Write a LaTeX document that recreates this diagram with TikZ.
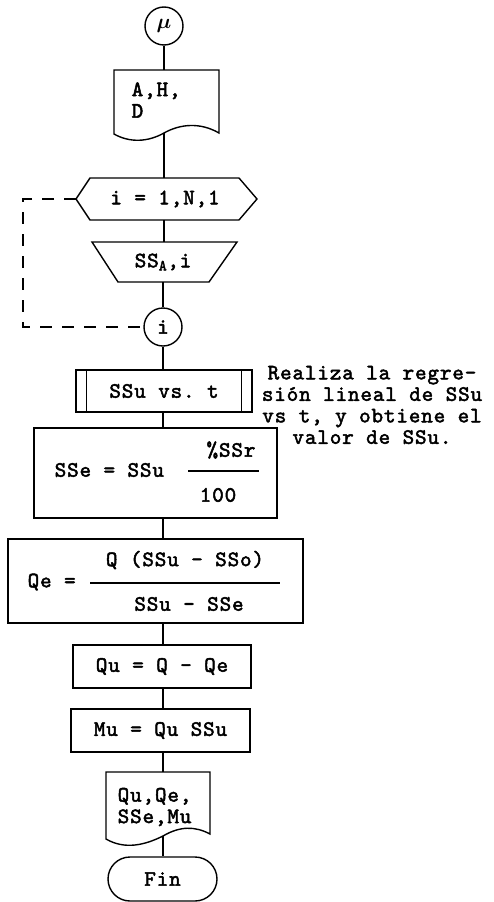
\documentclass[tikz,border=0pt]{standalone}
\usepackage{fontspec}
\usepackage{bm}
\newfontfamily\twfont[FakeBold=2.2,LetterSpace=4]{lmmono10-regular.otf}
\begin{document}
\begin{tikzpicture}[x=1pt,y=-1pt,line width=1.4pt,
  txt/.style={font=\fontsize{22}{21.5}\selectfont\twfont,inner sep=0pt},
  box/.style={draw,rectangle,inner sep=0pt},
  loopdash/.style={dash pattern=on 12pt off 10pt}]
\useasboundingbox (0,0) rectangle (493,902);

% start connector
\node[draw,circle,minimum size=38pt,inner sep=0pt] (mu) at (164,26) {\fontsize{22}{22}\selectfont$\bm{\mu}$};

% input document A,H,D
\draw (114,70) -- (219,70) -- (219,133)
  .. controls (200,122) and (180,124) .. (164,133) coordinate (d1b)
  .. controls (148,142) and (130,143) .. (114,134) -- cycle;
\coordinate (d1t) at (164,70);
\node[txt,anchor=west,align=left] (d1) at (131,100) {A,H,\\D};

% loop hexagon
\draw (76,199) coordinate (hexL) -- (90,178) -- (239,178) -- (257,199) -- (239,220) -- (90,220) -- cycle;
\coordinate (hexT) at (164,178);
\coordinate (hexB) at (164,220);
\node[txt] (loop) at (165,199) {i = 1,N,1};

% manual input trapezoid
\draw (92,242) -- (237,242) -- (209,282) -- (118,282) -- cycle;
\coordinate (trT) at (164,242);
\coordinate (trB) at (163,282);
\node[txt] (rd) at (163,262) {SS\textsubscript{A},i};

% loop end connector
\node[draw,circle,minimum size=38pt,txt] (ci) at (163,327) {i};
\coordinate (lc) at (23,0);
\draw[loopdash] (hexL) -- (hexL -| lc) -- (ci.west -| lc) -- (ci.west);

% predefined process
\node[box,txt,minimum width=176pt,minimum height=42pt] (pp) at (164,391) {SSu vs.\ t};
\draw (pp.north west) ++(11,0) coordinate (pp1) -- (pp1 |- pp.south);
\draw (pp.north east) ++(-11,0) coordinate (pp2) -- (pp2 |- pp.south);

\node[txt,align=center] (note) at (372,405) {Realiza la regre-\\sión lineal de SSu\\vs t, y obtiene el\\valor de SSu.};

% SSe box
\node[box,minimum width=243pt,minimum height=90pt] (sse) at (155.5,473) {};
\node[txt,anchor=west] (sse1) at (54,470) {SSe = SSu};
\node[txt] (sse2) at (231,450) {\%SSr};
\node[txt] (sse3) at (218,495) {100};
\draw[line width=1.2pt] (188,471) -- (259,471);

% Qe box
\node[box,minimum width=295pt,minimum height=84pt] (qe) at (155.5,581) {};
\node[txt,anchor=west] (qe1) at (27,582) {Qe =};
\node[txt] (qe2) at (185,560) {Q (SSu - SSo)};
\node[txt] (qe3) at (189,604) {SSu - SSe};
\draw[line width=1.2pt] (90,583) -- (280,583);

% Qu box
\node[box,txt,minimum width=178pt,minimum height=43pt] (qu) at (162,666.5) {Qu = Q - Qe};

% Mu box
\node[box,txt,minimum width=179pt,minimum height=43pt] (mub) at (160.5,730.5) {Mu = Qu SSu};

% output document
\draw (106,772) -- (210,772) -- (210,834)
  .. controls (195,826) and (180,826) .. (163,836) coordinate (d2b)
  .. controls (145,845) and (125,850) .. (106,839) -- cycle;
\coordinate (d2t) at (163,772);
\node[txt,anchor=west,align=left] (d2) at (117,807) {Qu,Qe,\\SSe,Mu};

% terminal
\node[draw,rounded corners=22pt,minimum width=109pt,minimum height=44pt,txt] (fin) at (162.5,879) {Fin};

% connectors
\draw (mu.south) -- (d1t);
\draw (d1b) -- (hexT);
\draw (hexB) -- (trT);
\draw (trB) -- (ci.north);
\draw (ci.south) -- (pp.north -| ci);
\draw (pp.south -| ci) -- (sse.north -| ci);
\draw (sse.south -| ci) -- (qe.north -| ci);
\draw (qe.south -| ci) -- (qu.north -| ci);
\draw (qu.south -| ci) -- (mub.north -| ci);
\draw (mub.south -| ci) -- (d2t);
\draw (d2b) -- (fin.north -| d2b);
\end{tikzpicture}
\end{document}
